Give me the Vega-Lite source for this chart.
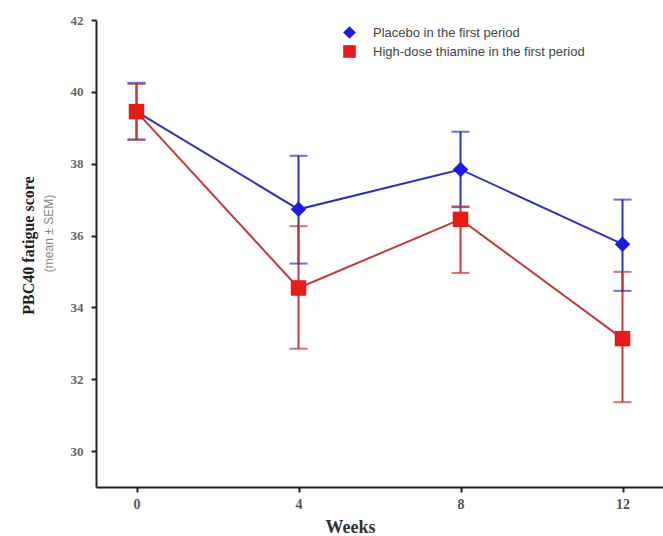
{
  "$schema": "https://vega.github.io/schema/vega-lite/v6.json",
  "autosize": "none",
  "width": 567,
  "height": 467,
  "padding": {"left": 96, "top": 20, "right": 0, "bottom": 49},
  "background": "white",
  "config": {
    "view": {"stroke": null},
    "font": "Liberation Serif"
  },
  "data": {
    "values": [
      {"group": "Placebo in the first period", "week": 0, "mean": 39.45, "lo": 38.67, "hi": 40.25},
      {"group": "Placebo in the first period", "week": 4, "mean": 36.73, "lo": 35.22, "hi": 38.22},
      {"group": "Placebo in the first period", "week": 8, "mean": 37.84, "lo": 36.79, "hi": 38.89},
      {"group": "Placebo in the first period", "week": 12, "mean": 35.76, "lo": 34.46, "hi": 37.0},
      {"group": "High-dose thiamine in the first period", "week": 0, "mean": 39.45, "lo": 38.67, "hi": 40.22},
      {"group": "High-dose thiamine in the first period", "week": 4, "mean": 34.54, "lo": 32.85, "hi": 36.26},
      {"group": "High-dose thiamine in the first period", "week": 8, "mean": 36.45, "lo": 34.96, "hi": 36.81},
      {"group": "High-dose thiamine in the first period", "week": 12, "mean": 33.13, "lo": 31.36, "hi": 34.99}
    ]
  },
  "encoding": {
    "x": {
      "field": "week", "type": "quantitative",
      "scale": {"domain": [-1, 13], "nice": false, "zero": false},
      "axis": {
        "values": [0, 4, 8, 12], "grid": false,
        "title": "Weeks", "titleFont": "Liberation Serif", "titleFontSize": 18, "titleFontWeight": "bold", "titleColor": "#333",
        "titleX": 254, "titleY": 40, "titleBaseline": "middle", "titleAlign": "center", "titleAnchor": null,
        "labelFont": "Liberation Serif", "labelFontSize": 14, "labelFontWeight": "bold", "labelColor": "#555", "labelPadding": 5,
        "domainColor": "#222", "domainWidth": 2, "tickColor": "#222", "tickWidth": 2, "tickSize": 5
      }
    }
  },
  "layer": [
    {
      "mark": {"type": "line", "strokeWidth": 2},
      "encoding": {
        "y": {
          "field": "mean", "type": "quantitative",
          "scale": {"domain": [29, 42], "nice": false, "zero": false},
          "axis": {
            "orient": "left", "labels": false, "ticks": false, "domain": false, "grid": false,
            "title": "(mean ± SEM)", "titleFont": "Liberation Sans", "titleFontSize": 12, "titleFontWeight": "normal", "titleColor": "#888",
            "titleX": -48, "titleY": 213, "titleAngle": -90, "titleBaseline": "middle", "titleAlign": "center", "titleAnchor": null
          }
        },
        "stroke": {
          "field": "group", "type": "nominal",
          "scale": {"domain": ["High-dose thiamine in the first period", "Placebo in the first period"], "range": ["#c43a3a", "#3030b8"]},
          "legend": null
        },
        "order": {"field": "week"}
      }
    },
    {
      "mark": {"type": "rule", "strokeWidth": 2},
      "encoding": {
        "y": {"field": "lo", "type": "quantitative", "axis": null},
        "y2": {"field": "hi"},
        "stroke": {"field": "group", "type": "nominal", "legend": null}
      }
    },
    {
      "mark": {"type": "tick", "orient": "horizontal", "size": 18, "thickness": 2},
      "encoding": {
        "y": {"field": "lo", "type": "quantitative", "axis": null},
        "color": {"field": "group", "type": "nominal", "legend": null,
          "scale": {"domain": ["High-dose thiamine in the first period", "Placebo in the first period"], "range": ["#b83b3b", "#3030b8"]}}
      }
    },
    {
      "mark": {"type": "tick", "orient": "horizontal", "size": 18, "thickness": 2},
      "encoding": {
        "y": {"field": "hi", "type": "quantitative", "axis": null},
        "color": {"field": "group", "type": "nominal", "legend": null}
      }
    },
    {
      "mark": {"type": "point", "filled": true, "opacity": 1, "size": 240},
      "encoding": {
        "y": {
          "field": "mean", "type": "quantitative",
          "axis": {
            "orient": "left", "values": [30, 32, 34, 36, 38, 40, 42], "grid": false,
            "title": "PBC40 fatigue score", "titleFont": "Liberation Serif", "titleFontSize": 16, "titleFontWeight": "bold", "titleColor": "#222",
            "titleX": -68, "titleY": 225, "titleAngle": -90, "titleBaseline": "middle", "titleAlign": "center", "titleAnchor": null,
            "labelFont": "Liberation Serif", "labelFontSize": 13, "labelFontWeight": "bold", "labelColor": "#666", "labelPadding": 8,
            "domainColor": "#222", "domainWidth": 2, "tickColor": "#222", "tickWidth": 2, "tickSize": 5
          }
        },
        "fill": {
          "field": "group", "type": "nominal",
          "scale": {"domain": ["Placebo in the first period", "High-dose thiamine in the first period"], "range": ["#1c1ce0", "#e81a1a"]},
          "legend": {
            "orient": "none", "legendX": 246, "legendY": 5, "title": null,
            "labelFont": "Liberation Sans", "labelFontSize": 13, "labelColor": "#444", "labelLimit": 0,
            "symbolSize": 160, "labelOffset": 16, "rowPadding": 0, "padding": 0
          }
        },
        "shape": {
          "field": "group", "type": "nominal",
          "scale": {"domain": ["Placebo in the first period", "High-dose thiamine in the first period"], "range": ["diamond", "square"]},
          "legend": {
            "orient": "none", "legendX": 246, "legendY": 5, "title": null,
            "labelFont": "Liberation Sans", "labelFontSize": 13, "labelColor": "#444", "labelLimit": 0,
            "symbolSize": 160, "labelOffset": 16, "rowPadding": 0, "padding": 0
          }
        },
        "order": {"field": "group", "sort": "descending"}
      }
    }
  ],
  "resolve": {"axis": {"y": "independent"}}
}
